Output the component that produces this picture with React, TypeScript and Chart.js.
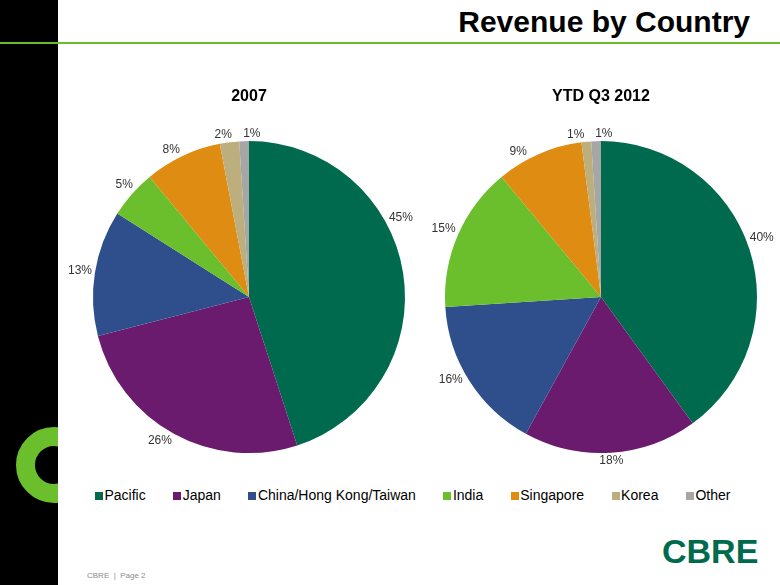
import React, { useEffect, useRef } from "react";
import { Chart, registerables } from "chart.js";

Chart.register(...registerables);

// ---------- data ----------
const categories = [
  "Pacific",
  "Japan",
  "China/Hong Kong/Taiwan",
  "India",
  "Singapore",
  "Korea",
  "Other",
];
const values2007 = [45, 26, 13, 5, 8, 2, 1];
const valuesYtdQ3_2012 = [40, 18, 16, 15, 9, 1, 1];
const chartTitles = ["2007", "YTD Q3 2012"];
const slideTitle = "Revenue by Country";
const footerText = "CBRE  |  Page 2";
const logoText = "CBRE";

// ---------- style ----------
const sliceColors = [
  "#006a4e",
  "#6b1b6e",
  "#2f4e8c",
  "#6bbe2c",
  "#df8c12",
  "#bdae7d",
  "#a6a6a6",
];
// label nudges (degrees, clockwise) mimicking PowerPoint best-fit placement
const labelShift2007 = [-18.6, 3, 0, 0.7, -2.6, -1.8, 2.8];
const labelShift2012 = [-2.4, 0, 3.6, 0, -6.3, -3.4, 2.8];

const FONT = "'Liberation Sans', Arial, Helvetica, sans-serif";

const outsideLabels = {
  id: "outsideLabels",
  afterDatasetsDraw(chart: any, _args: any, opts: any) {
    const ctx = chart.ctx as CanvasRenderingContext2D;
    const meta = chart.getDatasetMeta(0);
    const data = chart.data.datasets[0].data as number[];
    const total = data.reduce((a, b) => a + b, 0);
    ctx.save();
    ctx.font = `12px ${FONT}`;
    ctx.fillStyle = opts.color;
    ctx.textAlign = "center";
    ctx.textBaseline = "middle";
    meta.data.forEach((arc: any, i: number) => {
      const p = arc.getProps(["x", "y", "startAngle", "endAngle", "outerRadius"], true);
      const shift = (((opts.shifts && opts.shifts[i]) || 0) * Math.PI) / 180;
      const a = (p.startAngle + p.endAngle) / 2 + shift;
      const text = Math.round((data[i] / total) * 100) + "%";
      const w = ctx.measureText(text).width;
      const d =
        p.outerRadius +
        opts.gap +
        (w / 2) * Math.abs(Math.cos(a)) +
        (opts.textHeight / 2) * Math.abs(Math.sin(a));
      ctx.fillText(text, p.x + d * Math.cos(a), p.y + d * Math.sin(a));
    });
    ctx.restore();
  },
};

function PieChart(props: {
  title: string;
  values: number[];
  shifts: number[];
  left: number;
  width: number;
}) {
  const ref = useRef<HTMLCanvasElement>(null);
  useEffect(() => {
    const chart = new Chart(ref.current as HTMLCanvasElement, {
      type: "pie",
      data: {
        labels: categories,
        datasets: [
          {
            data: props.values,
            backgroundColor: sliceColors,
            borderWidth: 0,
            radius: 156,
          } as any,
        ],
      },
      options: {
        responsive: false,
        maintainAspectRatio: false,
        animation: false,
        layout: { padding: 0 },
        plugins: {
          legend: { display: false },
          tooltip: { enabled: false },
          title: {
            display: true,
            text: props.title,
            color: "#000",
            font: { family: FONT, size: 16, weight: "bold" },
            padding: { top: 9, bottom: 10 },
          },
          outsideLabels: {
            shifts: props.shifts,
            gap: 2.5,
            textHeight: 10,
            color: "#333",
          },
        } as any,
      },
      plugins: [outsideLabels],
    });
    return () => chart.destroy();
  }, []);
  return (
    <canvas
      ref={ref}
      width={props.width}
      height={400}
      style={{ position: "absolute", left: props.left, top: 78, width: props.width, height: 400 }}
    />
  );
}

export default function App() {
  return (
    <div
      style={{
        position: "fixed",
        left: 0,
        top: 0,
        width: 780,
        height: 585,
        background: "#fff",
        overflow: "hidden",
        fontFamily: FONT,
      }}
    >
      {/* left black band with green ring */}
      <div
        style={{
          position: "absolute",
          left: 0,
          top: 0,
          width: 58,
          height: 585,
          background: "#000",
          overflow: "hidden",
        }}
      >
        <div
          style={{
            position: "absolute",
            left: 54 - 38,
            top: 465 - 38,
            width: 38,
            height: 38,
            borderRadius: "50%",
            border: "19px solid #6bbe2c",
          }}
        />
      </div>
      {/* green rule */}
      <div style={{ position: "absolute", left: 0, top: 42, width: 780, height: 2, background: "#69be28" }} />
      {/* title */}
      <div
        style={{
          position: "absolute",
          right: 30,
          top: 7,
          fontSize: 30,
          lineHeight: "30px",
          fontWeight: "bold",
          color: "#000",
          whiteSpace: "nowrap",
        }}
      >
        {slideTitle}
      </div>

      <PieChart title={chartTitles[0]} values={values2007} shifts={labelShift2007} left={69} width={360} />
      <PieChart title={chartTitles[1]} values={valuesYtdQ3_2012} shifts={labelShift2012} left={424} width={354} />

      {/* legend */}
      <div
        style={{
          position: "absolute",
          left: 95,
          top: 487,
          display: "flex",
          gap: 27.5,
          fontSize: 14,
          lineHeight: "16px",
          color: "#000",
          whiteSpace: "nowrap",
        }}
      >
        {categories.map((c, i) => (
          <div key={c} style={{ display: "flex", alignItems: "center" }}>
            <span
              style={{
                display: "inline-block",
                width: 8,
                height: 8,
                background: sliceColors[i],
                marginRight: 1.5,
                marginTop: 1,
              }}
            />
            <span>{c}</span>
          </div>
        ))}
      </div>

      {/* logo */}
      <div
        style={{
          position: "absolute",
          left: 662,
          top: 534,
          fontSize: 34,
          lineHeight: "34px",
          fontWeight: "bold",
          color: "#006a4e",
          letterSpacing: 0,
        }}
      >
        {logoText}
      </div>
      {/* footer */}
      <div
        style={{
          position: "absolute",
          left: 87,
          top: 571,
          fontSize: 8,
          lineHeight: "10px",
          color: "#8c8c8c",
          whiteSpace: "pre",
        }}
      >
        {footerText}
      </div>
    </div>
  );
}
